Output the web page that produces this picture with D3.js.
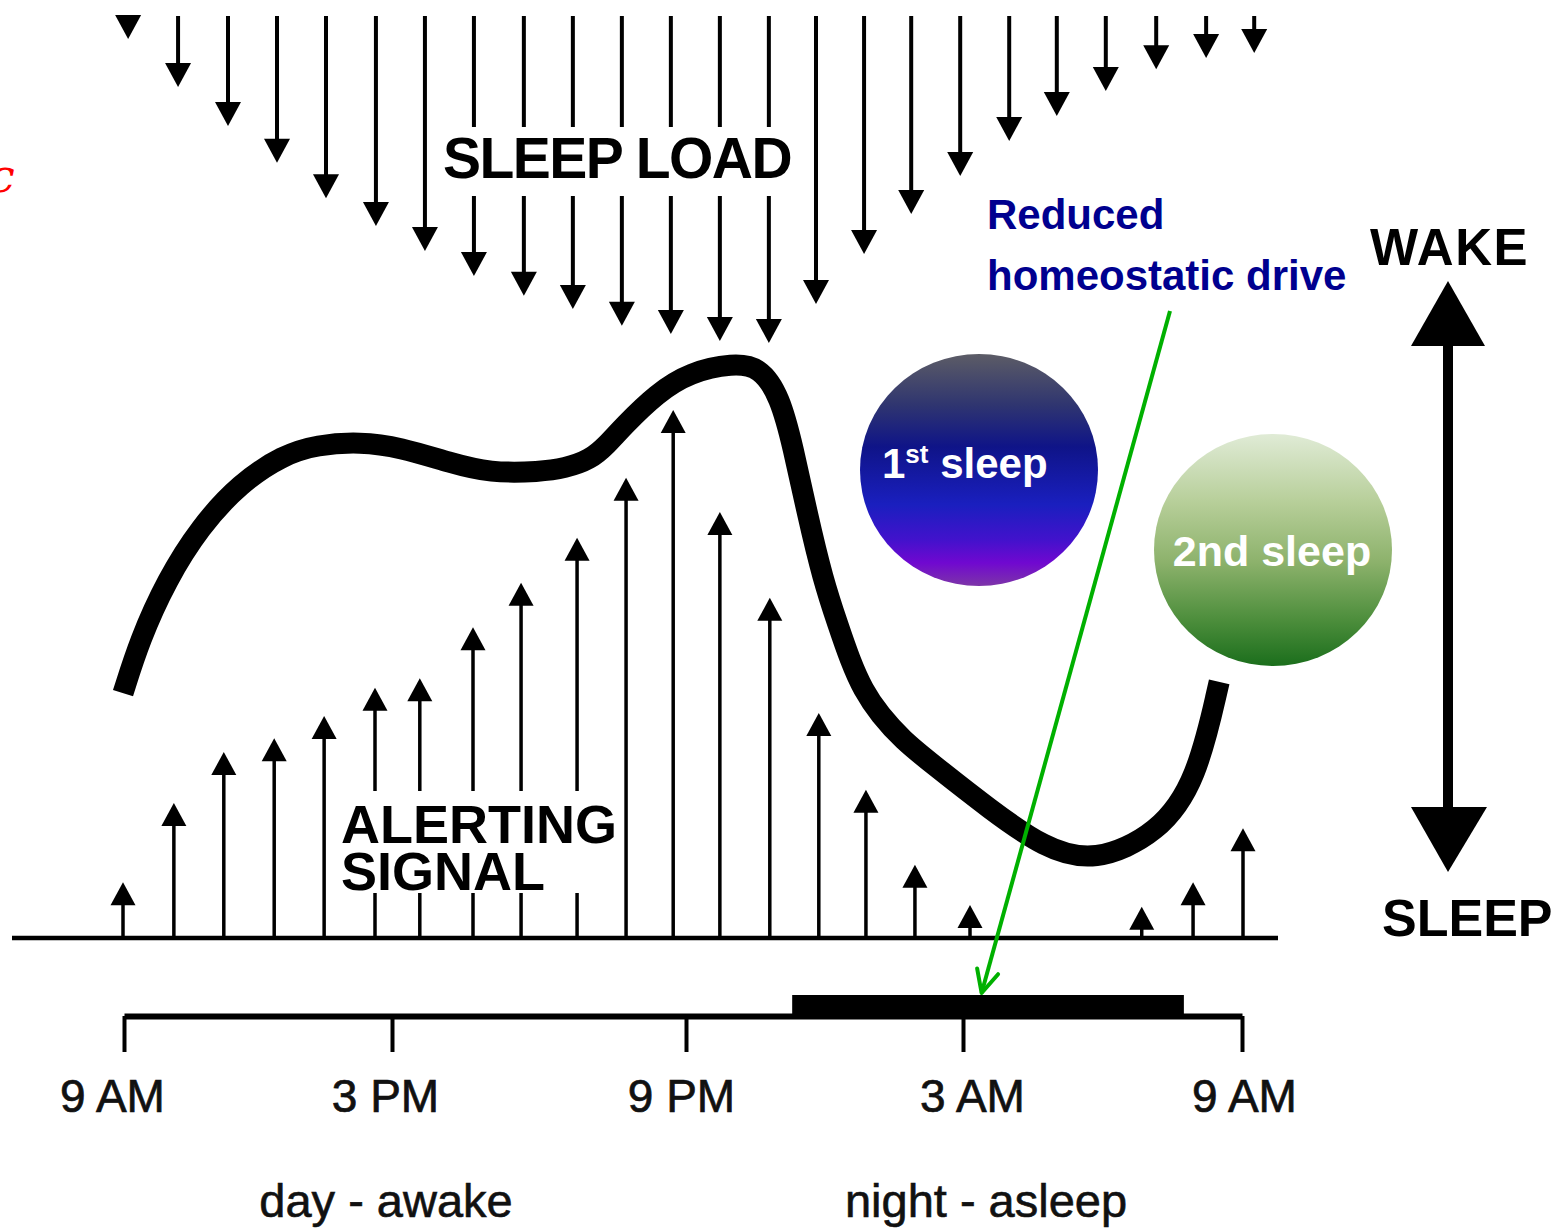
<!DOCTYPE html>
<html>
<head>
<meta charset="utf-8">
<script src="https://cdn.jsdelivr.net/npm/d3@7"></script>
<style>
  body { margin: 0; background: #fff; }
  svg { display: block; font-family: 'Liberation Sans', Arial, sans-serif; }
</style>
</head>
<body>
<div id="chart"></div>
<script>
  // hours after 9 AM, and strength (0-100) of each arrow
  var loadHours = [0.11, 1.18, 2.25, 3.30, 4.35, 5.42, 6.47, 7.52, 8.59, 9.64, 10.69, 11.74,
                   12.79, 13.84, 14.85, 15.88, 16.89, 17.94, 18.99, 20.01, 21.06, 22.14, 23.21, 24.24]
  var loadValues = [7, 21.5, 33.3, 44.5, 55.2, 63.6, 71.2, 78.8, 84.8, 88.8, 93.9, 96.4,
                    98.5, 99.1, 87.3, 72.1, 60, 48.5, 37.9, 30.3, 22.7, 16.1, 12.7, 11.2]

  var alertHours = [0, 1.09, 2.16, 3.24, 4.31, 5.4, 6.36, 7.5, 8.53, 9.73, 10.78, 11.79,
                    12.79, 13.86, 14.91, 15.92, 16.97, 18.15, 21.83, 22.93, 24]
  var alertValues = [9.3, 22.5, 31, 33.3, 37, 41.7, 43.3, 51.8, 59.2, 66.7, 76.7, 88,
                     71, 56.7, 37.5, 24.7, 12.2, 5.5, 5.2, 9.3, 18.3]

  // wake / sleep tendency curve
  var curveHours = [0.00, 0.36, 0.94, 1.65, 2.51, 3.43, 4.16, 5.08, 5.94, 7.01, 7.86, 8.94,
                    9.47, 10.01, 10.37, 10.71, 11.44, 12.15, 13.07, 13.65, 14.08, 14.36, 14.66,
                    15.00, 15.32, 15.58, 15.86, 16.22, 16.71, 17.31, 18.60, 19.74, 20.81,
                    22.20, 23.01, 23.49]
  var curveValues = [40.8, 49.7, 59.7, 68.5, 75.8, 80.5, 82.2, 82.7, 81.8, 79.2, 77.5, 77.7,
                     78.3, 79.7, 82.2, 85.2, 90.8, 94.3, 95.8, 95.2, 90.2, 81.8, 70.8,
                     59.7, 52.2, 46.3, 41.3, 37.2, 33.0, 29.2, 21.3, 15.0, 12.5,
                     17.5, 26.3, 42.7]

  var tickHours = [0, 6, 12, 18, 24]
  var tickLabels = ['9 AM', '3 PM', '9 PM', '3 AM', '9 AM']
  var sleepPeriod = [14.3, 22.75]
  var driveHour = 18.4

  var svg = d3.select('#chart')
              .append('svg')
              .attr('width', 1561)
              .attr('height', 1229)

  var defs = svg.append('defs')

  var x = d3.scaleLinear().domain([0, 24]).range([123, 1243])
  var yUp = d3.scaleLinear().domain([0, 100]).range([938, 338])
  var yDown = d3.scaleLinear().domain([0, 100]).range([16, 346])
  var xTime = d3.scaleLinear().domain(tickHours).range([124, 392, 686, 963, 1242])

  // sleep load arrows
  var down = svg.append('g')
  down.selectAll('line')
      .data(d3.zip(loadHours, loadValues))
      .enter()
      .append('line')
      .attr('x1', function(d) { return x(d[0]) })
      .attr('x2', function(d) { return x(d[0]) })
      .attr('y1', yDown(0))
      .attr('y2', function(d) { return Math.max(yDown(0), yDown(d[1]) - 22) })
      .attr('stroke', '#000')
      .attr('stroke-width', 4)
  down.selectAll('path')
      .data(d3.zip(loadHours, loadValues))
      .enter()
      .append('path')
      .attr('d', function(d) {
        var cx = x(d[0]), tip = yDown(d[1])
        return 'M' + (cx - 13) + ',' + (tip - 24) + 'L' + (cx + 13) + ',' + (tip - 24) + 'L' + cx + ',' + tip + 'Z'
      })
      .attr('fill', '#000')

  // alerting signal arrows
  var up = svg.append('g')
  up.selectAll('line')
    .data(d3.zip(alertHours, alertValues))
    .enter()
    .append('line')
    .attr('x1', function(d) { return x(d[0]) })
    .attr('x2', function(d) { return x(d[0]) })
    .attr('y1', yUp(0))
    .attr('y2', function(d) { return yUp(d[1]) + 20 })
    .attr('stroke', '#000')
    .attr('stroke-width', 3.5)
  up.selectAll('path')
    .data(d3.zip(alertHours, alertValues))
    .enter()
    .append('path')
    .attr('d', function(d) {
      var cx = x(d[0]), tip = yUp(d[1])
      return 'M' + (cx - 12.5) + ',' + (tip + 23) + 'L' + (cx + 12.5) + ',' + (tip + 23) + 'L' + cx + ',' + tip + 'Z'
    })
    .attr('fill', '#000')

  svg.append('line')
     .attr('x1', 12).attr('x2', 1278)
     .attr('y1', yUp(0)).attr('y2', yUp(0))
     .attr('stroke', '#000')
     .attr('stroke-width', 4.5)

  // gaps in the arrows behind the labels
  svg.append('rect').attr('x', 438).attr('y', 127).attr('width', 358).attr('height', 69).attr('fill', '#fff')
  svg.append('rect').attr('x', 338).attr('y', 791).attr('width', 268).attr('height', 102).attr('fill', '#fff')

  svg.append('text')
     .attr('x', 443).attr('y', 178)
     .attr('font-size', 57).attr('font-weight', 'bold')
     .attr('letter-spacing', -1.5)
     .text('SLEEP LOAD')

  var alerting = svg.append('text')
                    .attr('font-size', 54).attr('font-weight', 'bold')
  alerting.append('tspan').attr('x', 341).attr('y', 843).text('ALERTING')
  alerting.append('tspan').attr('x', 341).attr('y', 890).text('SIGNAL')

  // the thick curve
  var line = d3.line()
               .x(function(d) { return x(d[0]) })
               .y(function(d) { return yUp(d[1]) })
               .curve(d3.curveBasis)

  svg.append('path')
     .datum(d3.zip(curveHours, curveValues))
     .attr('d', line)
     .attr('fill', 'none')
     .attr('stroke', '#000')
     .attr('stroke-width', 21)
     .attr('stroke-linecap', 'butt')

  // time axis
  var labelShift = [-12, -7, -5, 9, 2]
  var axis = d3.axisBottom(xTime)
               .tickValues(tickHours)
               .tickFormat(function(d, i) { return tickLabels[i] })
               .tickSize(36)
               .tickSizeOuter(0)
               .tickPadding(27)

  var ax = svg.append('g')
              .attr('transform', 'translate(0,1016)')
              .call(axis)
  ax.attr('font-size', 46).attr('font-family', null)
  ax.select('.domain').attr('stroke-width', 6)
  ax.selectAll('.tick line').attr('stroke-width', 4)
  ax.selectAll('.tick text')
    .attr('fill', '#111')
    .attr('stroke', '#111')
    .attr('stroke-width', 0.7)
    .attr('dx', function(d, i) { return labelShift[i] })

  svg.append('rect')
     .attr('x', xTime(sleepPeriod[0]))
     .attr('y', 995)
     .attr('width', xTime(sleepPeriod[1]) - xTime(sleepPeriod[0]))
     .attr('height', 22)
     .attr('fill', '#000')

  svg.append('text').attr('x', 386).attr('y', 1217).attr('text-anchor', 'middle')
     .attr('font-size', 47).attr('fill', '#111').attr('stroke', '#111').attr('stroke-width', 0.6)
     .text('day - awake')
  svg.append('text').attr('x', 986).attr('y', 1217).attr('text-anchor', 'middle')
     .attr('font-size', 47).attr('fill', '#111').attr('stroke', '#111').attr('stroke-width', 0.6)
     .text('night - asleep')

  // wake / sleep double arrow
  svg.append('line')
     .attr('x1', 1448).attr('x2', 1448)
     .attr('y1', 340).attr('y2', 812)
     .attr('stroke', '#000').attr('stroke-width', 10)
  svg.append('path').attr('d', 'M1448,281L1485,346L1411,346Z').attr('fill', '#000')
  svg.append('path').attr('d', 'M1448,872L1487,807L1411,807Z').attr('fill', '#000')
  svg.append('text').attr('x', 1370).attr('y', 265)
     .attr('font-size', 51).attr('font-weight', 'bold').attr('letter-spacing', 1.5).text('WAKE')
  svg.append('text').attr('x', 1382).attr('y', 936)
     .attr('font-size', 52).attr('font-weight', 'bold').text('SLEEP')

  // sleep bubbles
  var g1 = defs.append('linearGradient').attr('id', 'sleep1').attr('x1', 0).attr('x2', 0).attr('y1', 0).attr('y2', 1)
  var stops1 = [[0, '#5c5c66'], [0.22, '#2f3570'], [0.4, '#0f1488'], [0.65, '#1a1fbf'], [0.8, '#4212cc'], [0.9, '#7008d0'], [1, '#7d35a8']]
  stops1.forEach(function(s) { g1.append('stop').attr('offset', s[0]).attr('stop-color', s[1]) })

  var g2 = defs.append('linearGradient').attr('id', 'sleep2').attr('x1', 0).attr('x2', 0).attr('y1', 0).attr('y2', 1)
  var stops2 = [[0, '#e0ebd6'], [0.3, '#b6ce98'], [0.55, '#8db26c'], [0.8, '#4d8e3c'], [1, '#1b6e1c']]
  stops2.forEach(function(s) { g2.append('stop').attr('offset', s[0]).attr('stop-color', s[1]) })

  svg.append('ellipse').attr('cx', 979).attr('cy', 470).attr('rx', 119).attr('ry', 116).attr('fill', 'url(#sleep1)')
  svg.append('ellipse').attr('cx', 1273).attr('cy', 550).attr('rx', 119).attr('ry', 116).attr('fill', 'url(#sleep2)')

  var t1 = svg.append('text').attr('x', 882).attr('y', 478)
              .attr('font-size', 42).attr('font-weight', 'bold').attr('fill', '#fff')
  t1.append('tspan').text('1')
  t1.append('tspan').attr('font-size', 26).attr('dy', -15).text('st')
  t1.append('tspan').attr('dy', 15).text(' sleep')

  svg.append('text').attr('x', 1272).attr('y', 566).attr('text-anchor', 'middle')
     .attr('font-size', 43).attr('font-weight', 'bold').attr('fill', '#fff')
     .text('2nd sleep')

  // reduced homeostatic drive annotation
  svg.append('text').attr('x', 987).attr('y', 229)
     .attr('font-size', 42).attr('font-weight', 'bold').attr('fill', '#00008f').text('Reduced')
  svg.append('text').attr('x', 987).attr('y', 290)
     .attr('font-size', 42).attr('font-weight', 'bold').attr('fill', '#00008f').text('homeostatic drive')

  var tipX = xTime(driveHour), tipY = 993
  var sx = 1170, sy = 311
  var ang = Math.atan2(sy - tipY, sx - tipX)
  var green = svg.append('g').attr('stroke', '#00b000').attr('stroke-width', 4).attr('fill', 'none')
  green.append('line').attr('x1', sx).attr('y1', sy).attr('x2', tipX).attr('y2', tipY)
  green.append('path')
       .attr('d', 'M' + (tipX + 25 * Math.cos(ang - 0.45)) + ',' + (tipY + 25 * Math.sin(ang - 0.45)) +
                  'L' + tipX + ',' + tipY +
                  'L' + (tipX + 25 * Math.cos(ang + 0.45)) + ',' + (tipY + 25 * Math.sin(ang + 0.45)))
       .attr('stroke-linecap', 'round').attr('stroke-linejoin', 'round')

  // letter cut off at the left edge in the original slide
  svg.append('text').attr('x', -11).attr('y', 192)
     .attr('font-size', 46).attr('font-style', 'italic').attr('font-family', 'DejaVu Serif')
     .attr('fill', '#f00').text('c')
</script>
</body>
</html>
